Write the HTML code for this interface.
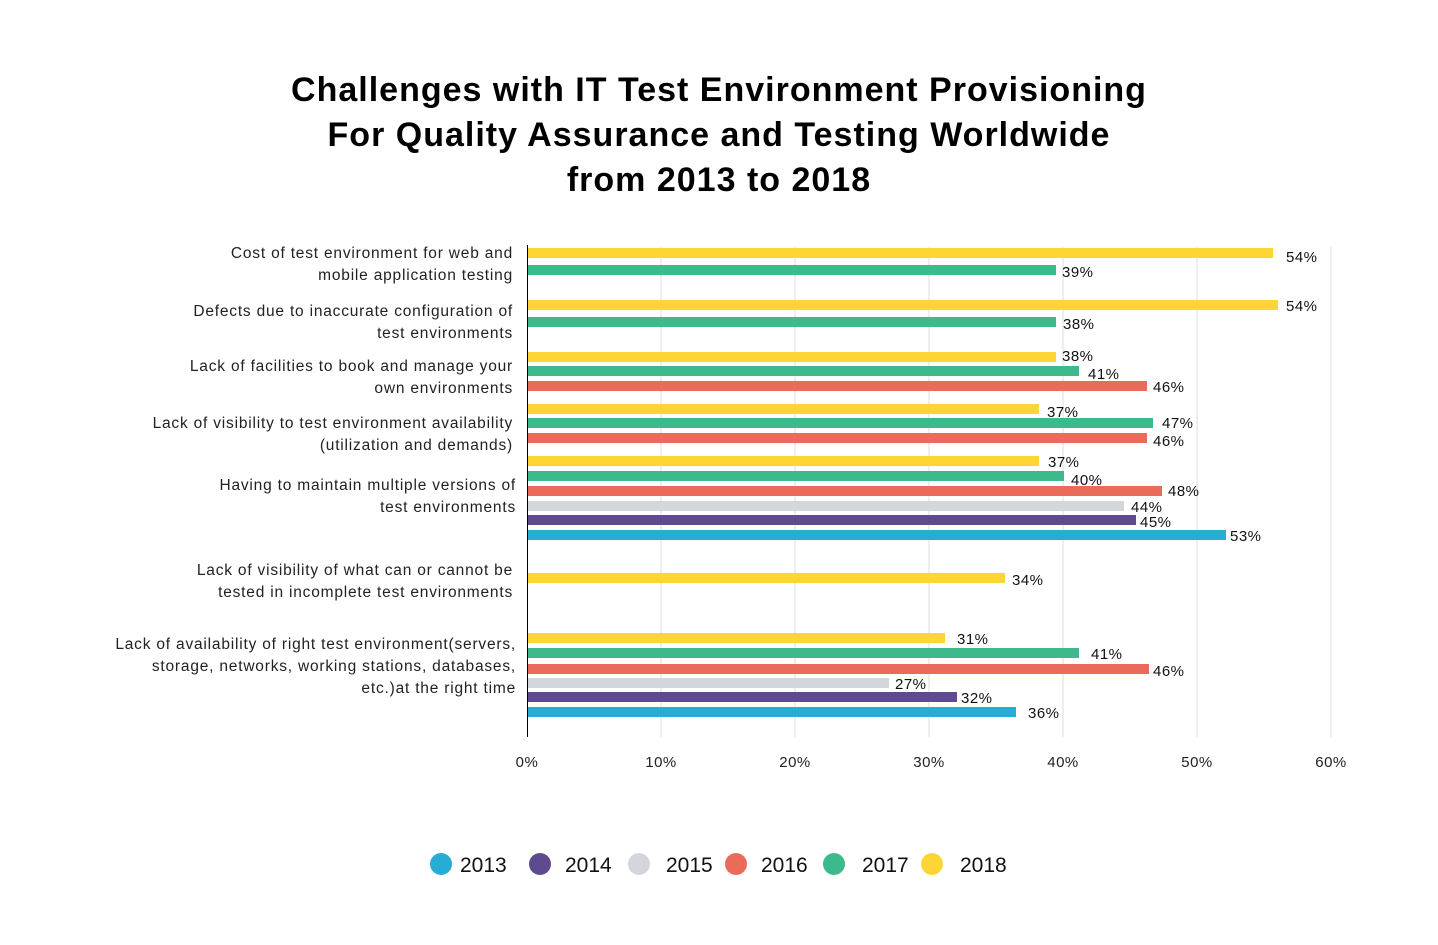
<!DOCTYPE html>
<html><head><meta charset="utf-8"><style>
body{margin:0;background:#fff;}
svg{display:block;font-family:"Liberation Sans",sans-serif;}
</style></head><body>
<svg width="1438" height="945" xmlns="http://www.w3.org/2000/svg">
<g font-size="34" font-weight="bold" text-anchor="middle" fill="#000" letter-spacing="1">
<text x="719" y="101">Challenges with IT Test Environment Provisioning</text>
<text x="719" y="146">For Quality Assurance and Testing Worldwide</text>
<text x="719" y="191">from 2013 to 2018</text>
</g>
<g stroke="#dcdcdc" stroke-width="1">
<line x1="661" y1="247" x2="661" y2="737"/><line x1="795" y1="247" x2="795" y2="737"/>
<line x1="929" y1="247" x2="929" y2="737"/><line x1="1063" y1="247" x2="1063" y2="737"/>
<line x1="1197" y1="247" x2="1197" y2="737"/><line x1="1331" y1="247" x2="1331" y2="737"/>
</g>
<line x1="527.5" y1="245" x2="527.5" y2="737" stroke="#000" stroke-width="1"/>
<g font-size="15" fill="#222" text-anchor="middle" letter-spacing="0.5">
<text x="527" y="767">0%</text><text x="661" y="767">10%</text><text x="795" y="767">20%</text>
<text x="929" y="767">30%</text><text x="1063" y="767">40%</text><text x="1197" y="767">50%</text><text x="1331" y="767">60%</text>
</g>
<g font-size="15.5" fill="#222" text-anchor="end" letter-spacing="0.8">
<text x="513" y="258">Cost of test environment for web and</text>
<text x="513" y="280">mobile application testing</text>
<text x="513" y="316">Defects due to inaccurate configuration of</text>
<text x="513" y="338">test environments</text>
<text x="513" y="371">Lack of facilities to book and manage your</text>
<text x="513" y="393">own environments</text>
<text x="513" y="428">Lack of visibility to test environment availability</text>
<text x="513" y="450">(utilization and demands)</text>
<text x="516" y="490">Having to maintain multiple versions of</text>
<text x="516" y="512">test environments</text>
<text x="513" y="575">Lack of visibility of what can or cannot be</text>
<text x="513" y="597">tested in incomplete test environments</text>
<text x="516" y="649">Lack of availability of right test environment(servers,</text>
<text x="516" y="671">storage, networks, working stations, databases,</text>
<text x="516" y="693">etc.)at the right time</text>
</g>
<g>
<rect x="528" y="248" width="745" height="10" fill="#FDD535"/>
<rect x="528" y="265" width="528" height="10" fill="#3DBA8C"/>
<rect x="528" y="300" width="750" height="10" fill="#FDD535"/>
<rect x="528" y="317" width="528" height="10" fill="#3DBA8C"/>
<rect x="528" y="352" width="528" height="10" fill="#FDD535"/>
<rect x="528" y="366" width="551" height="10" fill="#3DBA8C"/>
<rect x="528" y="381" width="619" height="10" fill="#EB6B5A"/>
<rect x="528" y="404" width="511" height="10" fill="#FDD535"/>
<rect x="528" y="418" width="625" height="10" fill="#3DBA8C"/>
<rect x="528" y="433" width="619" height="10" fill="#EB6B5A"/>
<rect x="528" y="456" width="511" height="10" fill="#FDD535"/>
<rect x="528" y="471" width="536" height="10" fill="#3DBA8C"/>
<rect x="528" y="486" width="634" height="10" fill="#EB6B5A"/>
<rect x="528" y="501" width="596" height="10" fill="#D3D6DB"/>
<rect x="528" y="515" width="608" height="10" fill="#5E4A8E"/>
<rect x="528" y="530" width="698" height="10" fill="#27ACD6"/>
<rect x="528" y="573" width="477" height="10" fill="#FDD535"/>
<rect x="528" y="633" width="417" height="10" fill="#FDD535"/>
<rect x="528" y="648" width="551" height="10" fill="#3DBA8C"/>
<rect x="528" y="664" width="621" height="10" fill="#EB6B5A"/>
<rect x="528" y="678" width="361" height="10" fill="#D3D6DB"/>
<rect x="528" y="692" width="429" height="10" fill="#5E4A8E"/>
<rect x="528" y="707" width="488" height="10" fill="#27ACD6"/>
</g>
<g font-size="15" fill="#111" letter-spacing="0.5">
<text x="1286" y="262">54%</text><text x="1062" y="277">39%</text>
<text x="1286" y="311">54%</text><text x="1063" y="329">38%</text>
<text x="1062" y="361">38%</text><text x="1088" y="379">41%</text><text x="1153" y="392">46%</text>
<text x="1047" y="417">37%</text><text x="1162" y="428">47%</text><text x="1153" y="446">46%</text>
<text x="1048" y="467">37%</text><text x="1071" y="485">40%</text><text x="1168" y="496">48%</text>
<text x="1131" y="512">44%</text><text x="1140" y="527">45%</text><text x="1230" y="541">53%</text>
<text x="1012" y="585">34%</text>
<text x="957" y="644">31%</text><text x="1091" y="659">41%</text><text x="1153" y="676">46%</text>
<text x="895" y="689">27%</text><text x="961" y="703">32%</text><text x="1028" y="718">36%</text>
</g>
<g font-size="21" fill="#111">
<circle cx="441" cy="864" r="11" fill="#27ACD6"/><text x="460" y="872">2013</text>
<circle cx="540" cy="864" r="11" fill="#5E4A8E"/><text x="565" y="872">2014</text>
<circle cx="639" cy="864" r="11" fill="#D3D6DB"/><text x="666" y="872">2015</text>
<circle cx="736" cy="864" r="11" fill="#EB6B5A"/><text x="761" y="872">2016</text>
<circle cx="834" cy="864" r="11" fill="#3DBA8C"/><text x="862" y="872">2017</text>
<circle cx="932" cy="864" r="11" fill="#FDD535"/><text x="960" y="872">2018</text>
</g>
</svg>
</body></html>
